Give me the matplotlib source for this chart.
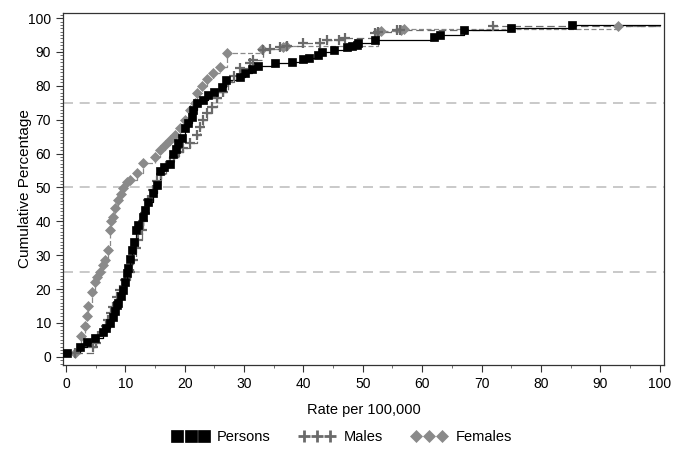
import matplotlib
matplotlib.use("Agg")
import matplotlib.pyplot as plt
from matplotlib.lines import Line2D
from matplotlib.ticker import MultipleLocator
import numpy as np

plt.rcParams['font.family'] = ['Liberation Sans Narrow', 'Liberation Sans', 'DejaVu Sans']

persons_rate = [0.2, 2.4, 3.5, 4.9, 6.2, 6.8, 7.4, 7.9, 8.3, 8.6, 8.8, 9.2, 9.6, 9.9, 10.2, 10.4,
                10.8, 11.1, 11.4, 11.8, 12.1, 13.0, 13.3, 13.8, 14.7, 15.3, 15.8, 16.5, 17.5, 18.0,
                18.5, 18.9, 19.5, 20.0, 20.6, 21.2, 21.4, 22.0, 23.0, 23.9, 25.0, 26.2, 27.0, 29.3,
                30.1, 31.3, 32.3, 35.2, 38.0, 39.9, 41.0, 42.4, 43.1, 45.1, 47.3, 48.1, 49.0, 49.2,
                52.0, 62.0, 63.0, 67.0, 75.0, 85.2]
persons_pct = [1.2, 3.0, 4.4, 5.6, 7.4, 8.5, 10.0, 11.8, 13.5, 15.3, 16.0, 18.0, 19.8, 22.0, 24.8, 26.2,
               29.0, 31.6, 34.0, 37.5, 39.0, 41.3, 43.4, 45.8, 48.4, 50.7, 55.0, 56.0, 57.0, 60.0,
               61.5, 63.0, 64.6, 67.5, 69.0, 70.8, 72.9, 75.0, 75.8, 77.3, 78.2, 79.6, 81.7, 82.6,
               83.8, 84.9, 85.8, 86.7, 87.1, 87.8, 88.3, 89.0, 90.0, 90.6, 91.4, 91.7, 92.0, 92.8,
               93.5, 94.3, 94.9, 96.5, 97.1, 97.9]

males_rate = [1.5, 4.5, 5.0, 5.4, 6.2, 6.7, 7.1, 7.5, 7.9, 8.6, 9.1, 9.9, 10.8, 11.3, 11.8, 12.1,
              12.8, 13.0, 13.3, 13.8, 14.7, 15.3, 16.0, 16.8, 17.5, 18.2, 19.0, 19.7, 20.9, 22.0,
              22.6, 23.0, 23.7, 24.6, 25.4, 26.4, 27.3, 28.3, 29.3, 31.0, 31.5, 33.2, 34.3, 36.0,
              37.2, 39.9, 42.8, 44.0, 46.0, 47.0, 52.0, 52.5, 55.7, 56.2, 72.0]
males_pct = [1.2, 3.0, 4.0, 6.0, 7.4, 9.0, 11.0, 13.0, 14.8, 17.7, 19.8, 22.7, 25.0, 28.6, 32.2, 34.5,
             37.5, 40.0, 42.5, 46.3, 49.3, 52.0, 54.0, 56.0, 57.5, 59.0, 60.5, 61.7, 63.0, 65.5,
             68.0, 70.0, 72.0, 73.8, 76.4, 78.2, 81.0, 83.0, 85.2, 86.7, 87.6, 90.6, 91.0, 91.5,
             91.7, 92.6, 92.8, 93.5, 93.6, 94.0, 95.6, 96.0, 96.5, 96.6, 97.8]

females_rate = [1.5, 2.6, 3.2, 3.5, 3.7, 4.4, 4.9, 5.3, 5.7, 6.2, 6.6, 7.1, 7.4, 7.6, 7.9, 8.3,
                8.8, 9.2, 9.6, 10.2, 10.8, 11.9, 13.0, 15.0, 15.8, 16.7, 17.5, 18.4, 19.2, 20.0,
                20.9, 21.7, 22.0, 22.9, 23.7, 24.7, 25.9, 27.1, 33.0, 36.5, 37.0, 52.5, 53.0, 56.5,
                57.0, 93.0]
females_pct = [1.2, 6.0, 9.0, 12.0, 15.0, 19.0, 22.0, 23.5, 25.0, 27.0, 28.6, 31.6, 37.5, 40.0, 41.3, 44.0,
               46.3, 48.0, 49.8, 51.6, 52.2, 54.3, 57.2, 59.0, 61.0, 62.5, 64.0, 65.5, 67.5, 70.0,
               73.0, 75.0, 78.0, 80.0, 82.0, 83.7, 85.5, 89.7, 91.0, 91.5, 91.7, 95.8, 96.2, 96.6,
               96.8, 97.8]

ref_lines = [25, 50, 75]
x_ticks = list(range(0, 101, 10))
y_ticks = list(range(0, 101, 10))

fig = plt.figure(figsize=(6.85, 4.5), dpi=100)
ax = fig.add_axes([0.092, 0.189, 0.877, 0.782])

for r in ref_lines:
    ax.axhline(r, color='#c0c0c0', lw=1.2, ls=(0, (6, 4)), zorder=1)

XMAX = 100.0

def draw(rate, pct, color, ls, lw, marker, ms, mew, mfc):
    xs = list(rate) + [XMAX]
    ys = list(pct) + [pct[-1]]
    ax.step(xs, ys, where='post', color=color, ls=ls, lw=lw, zorder=2)
    ax.plot(rate, pct, ls='none', marker=marker, ms=ms, mew=mew, color=color, mfc=mfc, zorder=3)

draw(females_rate, females_pct, '#8a8a8a', (0, (4, 2)), 0.9, 'D', 5.5, 0.5, '#8a8a8a')
draw(males_rate, males_pct, '#6a6a6a', (0, (6, 3)), 0.9, '+', 7, 1.6, '#6a6a6a')
draw(persons_rate, persons_pct, '#000000', '-', 0.9, 's', 6, 0.5, '#000000')

ax.set_xlim(-0.5, 100.7)
ax.set_ylim(-2.4, 101.5)
ax.set_xticks(x_ticks)
ax.set_yticks(y_ticks)
ax.xaxis.set_minor_locator(MultipleLocator(5))
ax.yaxis.set_minor_locator(MultipleLocator(1))
ax.tick_params(axis='both', which='major', direction='out', length=5, width=0.8, labelsize=10, color='#333333')
ax.tick_params(axis='both', which='minor', direction='out', length=2.5, width=0.6, color='#555555')
for s in ax.spines.values():
    s.set_color('#333333')
    s.set_linewidth(0.9)

ax.set_xlabel('Rate per 100,000', fontsize=10.5)
ax.xaxis.set_label_coords(0.5, -0.108)
ax.set_ylabel('Cumulative Percentage', fontsize=11)
ax.yaxis.set_label_coords(-0.051, 0.5)

handles = [
    Line2D([], [], ls='none', marker='s', ms=8, color='#000000', mew=0.5),
    Line2D([], [], ls='none', marker='+', ms=8, color='#6a6a6a', mew=2),
    Line2D([], [], ls='none', marker='D', ms=6.5, color='#8a8a8a', mew=0.5),
]
fig.legend(handles, ['Persons', 'Males', 'Females'], loc='center', bbox_to_anchor=(0.5, 0.028),
           ncol=3, frameon=False, numpoints=3, fontsize=10.5, handlelength=2.4,
           handletextpad=0.6, columnspacing=2.0, markerfirst=True)

fig.savefig('out.png', dpi=100)
